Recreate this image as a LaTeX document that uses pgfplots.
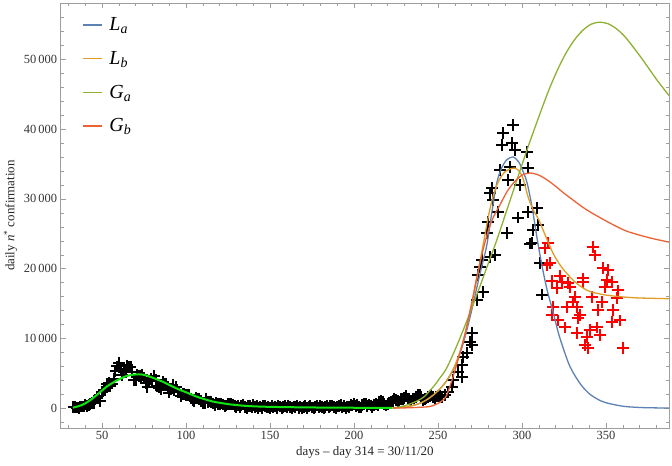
\documentclass[border=0pt]{standalone}
\usepackage{fontspec}
\setmainfont{Liberation Serif}
\usepackage{pgfplots}
\pgfplotsset{compat=1.18}
\definecolor{cLa}{rgb}{0.368417,0.506779,0.709798}
\definecolor{cLb}{rgb}{0.880722,0.611041,0.142051}
\definecolor{cGa}{rgb}{0.560181,0.691569,0.194885}
\definecolor{cGb}{rgb}{0.922526,0.385626,0.209179}
\definecolor{fitgreen}{rgb}{0.05,0.9,0.05}
\definecolor{framegray}{rgb}{0.62,0.62,0.62}
\begin{document}
\begin{tikzpicture}
\begin{axis}[
  scale only axis, width=608.3bp, height=425bp,
  xmin=25.4, xmax=387.5, ymin=-2820, ymax=58050,
  clip marker paths=true,
  xtick={50,100,...,350}, ytick={0,10000,...,50000},
  minor xtick={30,40,...,380}, minor ytick={-2000,0,...,56000},
  tick align=inside, major tick length=5bp, minor tick length=3bp,
  axis line style={framegray},
  every tick/.style={framegray},
  /pgf/number format/assume math mode=true,
  /pgf/number format/1000 sep={\,},
  scaled ticks=false,
  ticklabel style={font=\fontsize{12.5}{14}\selectfont, text=black!80},
  label style={font=\fontsize{13}{15}\selectfont, text=black!85},
  xlabel={days -- day 314 = 30/11/20},
  ylabel={daily \textit{n}\textsuperscript{*} confirmation},
  legend style={at={(0.03,0.975)}, anchor=north west, draw=none, fill=none,
    font=\fontsize{20}{22}\selectfont, row sep=15bp, column sep=5bp},
  legend cell align=left,
  legend image code/.code={\draw[#1] (0bp,0bp) -- (19bp,0bp);},
]
% black data (fitted)
\addplot[only marks, mark=+, mark size=5.8bp, line width=2bp, black, forget plot] coordinates {
(33,150)(34,220)(35,90)(36,80)(37,250)(38,240)(39,240)(40,560)(41,340)(42,470)(43,590)(44,770)(45,780)(46,1250)(47,1490)(48,1800)(49,980)(50,2310)(51,2650)(52,2550)(53,3500)(54,3590)(55,3230)(56,3530)(57,4210)(58,5320)(59,5990)(60,6560)(61,5560)(62,4790)(63,5250)(64,5210)(65,6150)(66,5960)(67,5970)(68,5220)(69,4050)(70,4050)(71,4780)(72,4670)(73,4590)(74,4810)(75,4320)(76,3600)(77,3040)(78,3840)(79,4200)(80,3950)(81,4690)(82,4090)(83,3150)(84,2970)(85,2670)(86,3790)(87,3490)(88,3490)(89,3050)(90,2260)(91,2730)(92,3370)(93,2650)(94,3020)(95,2360)(96,2320)(97,1740)(98,2090)(99,2090)(100,1870)(101,1970)(102,1900)(103,1390)(104,1220)(105,1080)(106,1440)(107,1400)(108,1330)(109,1080)(110,800)(111,740)(112,1400)(113,890)(114,990)(115,880)(116,680)(117,450)(118,810)(119,660)(120,640)(121,670)(122,530)(123,300)(124,400)(125,580)(126,590)(127,590)(128,520)(129,360)
(130,180)(131,420)(132,100)(133,380)(134,520)(135,150)(136,60)(137,300)(138,350)(139,90)(140,450)(141,200)(142,320)(143,80)(144,260)(145,40)(146,380)(147,330)(148,120)(149,230)(150,20)(151,330)(152,110)(153,280)(154,40)(155,390)(156,250)(157,60)(158,170)(159,340)(160,90)(161,420)(162,150)(163,30)(164,260)(165,200)(166,400)(167,80)(168,250)(169,40)(170,180)(171,330)(172,60)(173,270)(174,380)(175,120)(176,20)(177,200)(178,400)(179,90)(180,300)(181,230)(182,30)(183,200)(184,380)(185,110)(186,300)(187,420)(188,160)(189,60)(190,250)(191,330)(192,480)(193,120)(194,300)(195,60)(196,240)(197,150)(198,450)(199,380)(200,600)(201,300)(202,500)(203,180)(204,120)(205,480)(206,620)(207,700)(208,350)(209,560)(210,420)(211,200)(212,500)(213,600)(214,450)
(215,870)(216,1070)(217,950)(218,600)(219,400)(220,640)(221,840)(222,950)(223,1070)(224,1410)(225,1210)(226,1070)(227,950)(228,1370)(229,1370)(230,1460)(231,1730)(232,1400)(233,1300)(234,1100)(235,1400)(236,1400)(237,1600)(238,1900)(239,1900)(240,1600)(241,1200)(242,1300)(243,1400)(244,1600)(245,1800)(246,1900)(247,1600)(248,1400)(249,1700)(250,1800)(251,1800)
(252.4,1620)(254.2,1900)(256,2340)(258.3,3050)(258.9,4050)(261.9,5200)(264.3,4480)(264.3,6200)(264.9,7350)(267.3,7920)(269,9500)(270.2,9070)(270.2,10800)(273.2,15500)(276.8,16700)(273.8,19100)(275,20200)(276.2,21250)(281,21700)(283.9,21960)(279.2,25100)(291,25100)(279.8,26700)(285.7,28100)(282.7,29800)(281,30800)(282.1,31600)(291.7,32700)(286.9,34100)(292.9,34600)(288.1,37700)(288.7,39400)(294,38000)(294.6,40600)(295.8,37000)(298.8,32000)(297.6,27300)(303,36700)(303.6,34400)(303.6,28100)(308.9,28700)(306.5,25500)(309.5,26300)(304.8,23600)(306,23700)(310.7,20800)(311.9,16300)
};
% red data (not fitted)
\addplot[only marks, mark=+, mark size=5.8bp, line width=2bp, red, forget plot] coordinates {
(315.5,23700)(313.7,23000)(342.3,23100)(343.5,21900)(316.7,20800)(314.9,20500)(348.2,20100)(351.2,19800)(322.6,19000)(317.9,18200)(336.3,18600)(323.8,18100)(327.4,17950)(350.6,18400)(353.6,18100)(336.3,18100)(328.6,17400)(320.8,17200)(349.4,17400)(357.1,16900)(341.7,15900)(331.5,15900)(356.5,15800)(347.6,15200)(330.4,15200)(318.5,14500)(326.8,14500)(332.7,14500)(354.2,14100)(345.2,14100)(334.5,13400)(317.9,13400)(333.3,12900)(358.3,12600)(321.4,12600)(353.6,12400)(344.6,11600)(325.6,11600)(340.5,11200)(332.7,10800)(346.4,10500)(338.7,10200)(337.5,9070)(339.3,8640)(360.1,8640)
};
% green fit of first wave
\addplot[fitgreen, line width=2bp, smooth, forget plot] coordinates {
(32.7,100)(36,300)(40,700)(44,1350)(46.8,1900)(50,2550)(53,3150)(56.5,3670)(60,4150)(64.7,4630)(68,4800)(72.6,4870)(76,4730)(80,4400)(84,4020)(86.3,3800)(90,3340)(96,2680)(100,2300)(106,1700)(110,1380)(116,970)(120,790)(126,570)(130,470)(136,340)(145,240)(154,190)(165,150)(180,110)(200,80)(222.5,60)
};
\addplot[cLa, line width=1.3bp, smooth] coordinates {
(223,50)(230,200)(235,400)(240,800)(245,1500)(250,2500)(255,3900)(260,6000)(265,9300)(270,14000)(275,19300)(279,23300)(282,28000)(285,32300)(288,34500)(291,35600)(294.6,36000)(298,35300)(300.5,34000)(303,32300)(306,28800)(309,24300)(312,20300)(315,16900)(318.5,13800)(322,10500)(327,6900)(330,5300)(335,3400)(340,2100)(345,1300)(350,800)(360,300)(370,120)(380,60)(387.5,40)
};
\addlegendentry{\textit{L}\textsubscript{\textit{a}}}
\addplot[cLb, line width=1.3bp, smooth] coordinates {
(223,50)(230,200)(235,400)(240,800)(245,1500)(250,2500)(255,3900)(260,6100)(265,9600)(270,14800)(273.5,19000)(277,23600)(280,27500)(282.7,30300)(286,32500)(290,33900)(295.8,34400)(300,33300)(303.6,30300)(306.5,28500)(310,27000)(314,24700)(318.5,22200)(323,20400)(328.6,18800)(333,17800)(338.7,16900)(344,16500)(350.6,16200)(360,15950)(370,15800)(387.5,15700)
};
\addlegendentry{\textit{L}\textsubscript{\textit{b}}}
\addplot[cGa, line width=1.3bp, smooth] coordinates {
(223,50)(228,250)(233,600)(238,1100)(242,1700)(245,2500)(248,3300)(251,4300)(255,5700)(260,8300)(265,11200)(270,14300)(275,17500)(280,20800)(285,24100)(290,27700)(295,31300)(300,34900)(305,38400)(311,42400)(316,45600)(321,48400)(326,50800)(331,52700)(336,54100)(341,55000)(346,55300)(351,55100)(356,54400)(361,53300)(366,51800)(371,50200)(376,48500)(381,46800)(387.5,44800)
};
\addlegendentry{\textit{G}\textsubscript{\textit{a}}}
\addplot[cGb, line width=1.3bp, smooth] coordinates {
(223,30)(230,60)(235,100)(240,160)(245,250)(250,700)(253,1200)(255,1800)(258,3800)(262,7000)(266,10600)(270,15000)(273,18700)(276.8,22700)(280,25500)(283,27400)(287,29200)(291,31000)(295,32300)(300,33400)(304.8,33700)(310,33400)(315,32700)(320,31800)(325,30800)(330,29900)(335,29000)(340,28200)(348,27100)(355,26200)(362,25400)(370,24800)(378,24300)(387.5,23800)
};
\addlegendentry{\textit{G}\textsubscript{\textit{b}}}
\end{axis}
\pgfresetboundingbox
\path[use as bounding box] ([xshift=-60.7bp,yshift=-38bp]current axis.south west) rectangle ([xshift=3bp,yshift=3bp]current axis.north east);
\end{tikzpicture}
\end{document}
